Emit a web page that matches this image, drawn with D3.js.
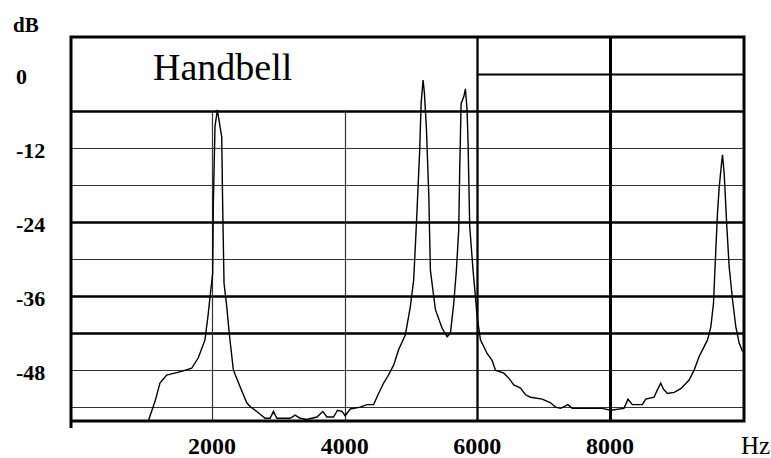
<!DOCTYPE html>
<html>
<head>
<meta charset="utf-8">
<script src="https://cdn.jsdelivr.net/npm/d3@7"></script>
<style>
  body { margin: 0; background: #fff; overflow: hidden; }
  svg { display: block; }
  text { font-family: "Liberation Serif", "DejaVu Serif", serif; fill: #000; }
</style>
</head>
<body>
<div id="chart"></div>
<script>
// spectrum: frequency (Hz) and level (dB)
var freqHz = [1040, 1140, 1215, 1316, 1542, 1693, 1793, 1894, 1944, 1970,
    2010, 2020, 2045, 2080, 2146, 2161, 2181, 2222, 2262, 2322,
    2423, 2524, 2574, 2675, 2800, 2876, 2926, 2977, 3178, 3253,
    3329, 3430, 3581, 3671, 3732, 3832, 3892, 3958, 4008, 4084,
    4235, 4336, 4436, 4511, 4587, 4650, 4738, 4813, 4914, 4990,
    5040, 5065, 5091, 5131, 5152, 5182, 5202, 5232, 5268, 5292,
    5333, 5368, 5469, 5544, 5594, 5644, 5684, 5719, 5734, 5755,
    5795, 5820, 5845, 5860, 5885, 5935, 5971, 5996, 6047, 6147,
    6222, 6273, 6399, 6474, 6550, 6651, 6726, 6802, 6978, 7104,
    7179, 7255, 7365, 7431, 7557, 7883, 8009, 8210, 8271, 8337,
    8488, 8538, 8664, 8714, 8765, 8806, 8866, 8967, 9067, 9193,
    9268, 9344, 9419, 9470, 9520, 9560, 9595, 9620, 9645, 9681,
    9696, 9721, 9761, 9796, 9847, 9897, 9947, 9998];
var levelDb = [-56.2, -53.1, -50.1, -48.8, -48.2, -47.7, -46.0, -43.1, -38.8, -36.1,
    -32.3, -20.9, -8.5, -5.8, -10.2, -21.5, -33.9, -37.7, -42.3, -48.0,
    -50.7, -53.3, -53.9, -54.7, -55.8, -55.8, -54.7, -55.8, -55.8, -55.3,
    -55.8, -56.0, -55.6, -54.7, -55.6, -55.6, -54.5, -54.7, -55.4, -54.3,
    -54.0, -53.6, -53.6, -51.8, -50.1, -49.0, -47.2, -44.7, -42.3, -37.7,
    -33.4, -28.0, -22.0, -12.3, -4.8, -1.0, -3.1, -8.8, -19.6, -31.8,
    -35.3, -38.2, -41.2, -42.6, -42.0, -37.2, -31.8, -25.3, -15.6, -4.8,
    -3.7, -2.4, -5.8, -11.2, -24.7, -31.8, -36.1, -39.3, -43.1, -45.3,
    -46.4, -48.0, -48.5, -49.3, -50.4, -50.9, -52.0, -52.4, -52.7, -53.3,
    -54.0, -54.2, -53.6, -54.2, -54.2, -54.2, -54.5, -54.2, -52.7, -53.6,
    -53.6, -52.7, -52.4, -51.2, -50.1, -51.1, -51.8, -51.6, -51.0, -49.6,
    -48.0, -45.8, -44.2, -43.1, -41.0, -37.2, -28.5, -22.6, -18.5, -14.5,
    -13.1, -16.1, -24.7, -31.2, -36.6, -41.0, -43.6, -45.0];

var xTicks = [2000, 4000, 6000, 8000];
var yTicks = [0, -12, -24, -36, -48];
var gridDb = [-6, -12, -18, -24, -30, -36, -42, -48, -54];
var heavyDb = [-6, -24, -36, -42];
var thinHz = [2000, 4000];
var heavyHz = [6000, 8000];

function drawChart() {
    var width = 771,
        height = 458,
        plotLeft = 71,
        plotRight = 744,
        plotTop = 37,
        plotBottom = 421;

    var x = d3.scaleLinear().domain([-126, 10020]).range([plotLeft, plotRight]);
    var y = d3.scaleLinear().domain([6, -56.25]).range([plotTop, plotBottom]);

    var svg = d3.select('#chart')
        .append('svg')
        .attr('width', width)
        .attr('height', height);

    var grid = svg.append('g').attr('class', 'grid');

    // horizontal rules, every 6 dB
    grid.selectAll('.hline').data(gridDb).enter().append('line')
        .attr('class', 'hline')
        .attr('x1', plotLeft)
        .attr('x2', plotRight)
        .attr('y1', function (d) { return Math.round(y(d)) + 0.5; })
        .attr('y2', function (d) { return Math.round(y(d)) + 0.5; })
        .style('stroke', function (d) { return heavyDb.indexOf(d) >= 0 ? '#000' : '#333'; })
        .style('stroke-width', function (d) { return heavyDb.indexOf(d) >= 0 ? 2.5 : 1.2; });

    // the 0 dB rule only runs right of 6000 Hz
    grid.append('line')
        .attr('x1', x(6000))
        .attr('x2', plotRight)
        .attr('y1', Math.round(y(0)) + 0.5)
        .attr('y2', Math.round(y(0)) + 0.5)
        .style('stroke', '#000')
        .style('stroke-width', 2.2);

    grid.selectAll('.vthin').data(thinHz).enter().append('line')
        .attr('class', 'vthin')
        .attr('x1', function (d) { return Math.round(x(d)) + 0.5; })
        .attr('x2', function (d) { return Math.round(x(d)) + 0.5; })
        .attr('y1', y(-6))
        .attr('y2', plotBottom)
        .style('stroke', '#333')
        .style('stroke-width', 1.2);

    grid.selectAll('.vheavy').data(heavyHz).enter().append('line')
        .attr('class', 'vheavy')
        .attr('x1', function (d) { return Math.round(x(d)) + 0.5; })
        .attr('x2', function (d) { return Math.round(x(d)) + 0.5; })
        .attr('y1', plotTop)
        .attr('y2', plotBottom)
        .style('stroke', '#000')
        .style('stroke-width', function (d) { return d === 8000 ? 3 : 2.3; });

    // frame
    svg.append('path')
        .attr('d', 'M' + plotLeft + ',' + (plotBottom + 7) + 'V' + plotTop +
                   'H' + plotRight + 'V' + plotBottom + 'H' + plotLeft)
        .style('fill', 'none')
        .style('stroke', '#000')
        .style('stroke-width', 3);

    // spectrum
    var pts = freqHz.map(function (f, i) { return [f, levelDb[i]]; });
    var line = d3.line()
        .x(function (d) { return x(d[0]); })
        .y(function (d) { return y(d[1]); });

    svg.append('path')
        .datum(pts)
        .attr('d', line)
        .style('fill', 'none')
        .style('stroke', '#000')
        .style('stroke-width', 1.4);

    // labels
    svg.selectAll('.xlab').data(xTicks).enter().append('text')
        .attr('class', 'xlab')
        .attr('x', function (d) { return x(d); })
        .attr('y', 454)
        .attr('text-anchor', 'middle')
        .style('font-size', '24px')
        .style('font-weight', 'bold')
        .text(function (d) { return d; });

    svg.append('text')
        .attr('x', 741)
        .attr('y', 454)
        .style('font-size', '25px')
        .text('Hz');

    svg.selectAll('.ylab').data(yTicks).enter().append('text')
        .attr('class', 'ylab')
        .attr('x', 16)
        .attr('y', function (d) { return y(d) + 2; })
        .attr('dy', '0.35em')
        .style('font-size', '22px')
        .style('font-weight', 'bold')
        .text(function (d) { return d; });

    svg.append('text')
        .attr('x', 13)
        .attr('y', 32)
        .style('font-size', '21px')
        .style('font-weight', 'bold')
        .text('dB');

    svg.append('text')
        .attr('x', 153)
        .attr('y', 80)
        .style('font-size', '38px')
        .text('Handbell');
}

drawChart();
</script>
</body>
</html>
